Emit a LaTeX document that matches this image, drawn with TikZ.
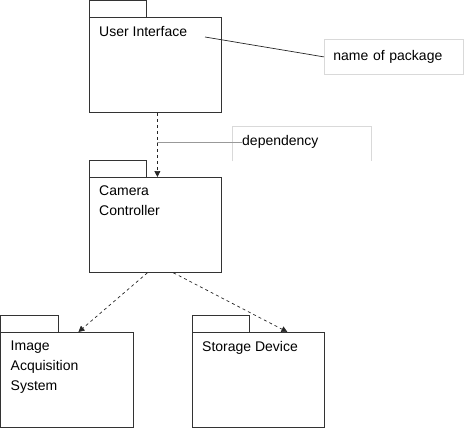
\documentclass[tikz,border=0pt]{standalone}
\usepackage{fontspec}
\setmainfont{Liberation Sans}
\usetikzlibrary{arrows.meta}

\tikzset{
  pkg/.style={draw=black!80, line width=0.8pt, minimum width=132pt, minimum height=95pt, inner sep=0pt, anchor=north west},
  pkgtab/.style={draw=black!80, line width=0.8pt},
  pkgname/.style={anchor=north west, align=left, inner xsep=10pt, inner ysep=9pt, font=\fontsize{14}{20}\selectfont},
  notebox/.style={draw=black!15, line width=0.8pt},
  dep/.style={draw=black!85, line width=0.7pt, dash pattern=on 3pt off 3pt, -{Triangle[length=6pt,width=6pt]}}
}

\begin{document}
\begin{tikzpicture}[x=1pt,y=-1pt]
    \useasboundingbox (0,0) rectangle (464,429);
    % packages
    \node[pkg] (ui) at (89,17) {};
    \node[pkg] (cam) at (89,177) {};
    \node[pkg] (ias) at (0.5,332) {};
    \node[pkg] (sd) at (192,332) {};
    \foreach \p in {ui,cam,ias,sd}
      \draw[pkgtab] (\p.north west) rectangle ++(57.5,-17);
    \node[pkgname] (uiname) at (ui.north west) {User Interface};
    \node[pkgname] (camname) at (cam.north west) {Camera\\Controller};
    \node[pkgname] (iasname) at (ias.north west) {Image\\Acquisition\\System};
    \node[pkgname] (sdname) at (sd.north west) {Storage Device};
    % dependencies
    \coordinate (depx) at ([xshift=2pt]ui.south);
    \draw[dep] (depx) -- ([xshift=2pt]cam.north);
    \draw[dep] ([xshift=-8pt]cam.south) -- ([xshift=11.5pt]ias.north);
    \draw[dep] ([xshift=18pt]cam.south) -- ([xshift=29pt]sd.north);
    % notes
    \node[notebox, anchor=north west, minimum width=139pt, minimum height=35pt, inner xsep=9pt, text width=121pt, align=left, font=\fontsize{14}{20}\selectfont] (namenote) at (324,39) {name of package};
    \node[anchor=north west, minimum width=139pt, minimum height=32pt, inner xsep=10pt, text width=119pt, align=left, font=\fontsize{14}{20}\selectfont] (depnote) at (232,126) {dependency};
    \draw[notebox] ([yshift=-3pt]depnote.south west) -- (depnote.north west) -- (depnote.north east) -- ([yshift=-3pt]depnote.south east);
    \coordinate (uiend) at (205,37);
    \draw[black!85, line width=0.7pt] (uiend) -- (namenote.west);
    \draw[black!40, line width=1.2pt] (depx |- depnote.west) -- ([xshift=10pt]depnote.west);
  \end{tikzpicture}
\end{document}
